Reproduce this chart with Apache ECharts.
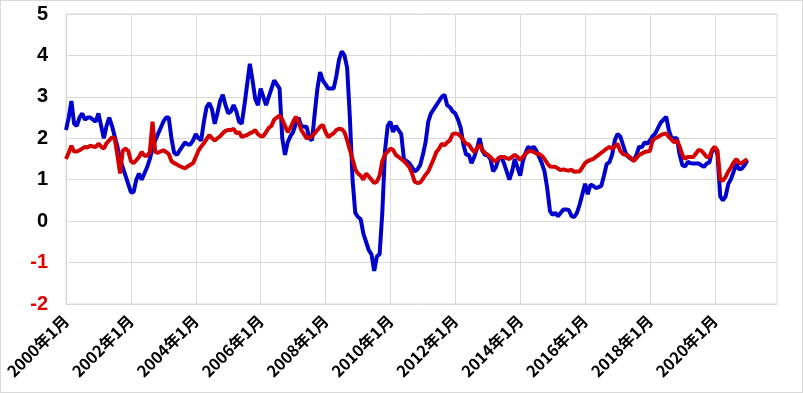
<!DOCTYPE html>
<html>
<head>
<meta charset="utf-8">
<script src="https://cdn.jsdelivr.net/npm/echarts@6/dist/echarts.min.js"></script>
<style>
html,body{margin:0;padding:0;background:#fff;}
#c{width:803px;height:393px;box-sizing:border-box;border:1px solid #d9d9d9;}
</style>
</head>
<body>
<div id="c"></div>
<script>
// Monthly categories 2000年1月 .. 2021年12月
const startYear = 2000;
const endYear = 2021;
const categories = [];
for (let y = startYear; y <= endYear; y++) {
  for (let m = 1; m <= 12; m++) categories.push(y + '年' + m + '月');
}

const blueValues = [
2.2,2.5,2.9,2.35,2.3,2.5,2.6,2.45,2.5,2.5,2.45,2.4,
2.6,2.3,2.0,2.3,2.5,2.3,2.05,1.8,1.5,1.3,1.1,0.9,
0.7,0.7,1.0,1.15,1.0,1.15,1.3,1.5,1.75,1.95,2.1,2.25,
2.4,2.5,2.5,2.0,1.65,1.6,1.7,1.8,1.9,1.85,1.85,1.95,
2.1,2.0,1.95,2.4,2.75,2.85,2.7,2.35,2.6,2.9,3.05,2.8,
2.6,2.65,2.8,2.65,2.4,2.35,2.8,3.3,3.8,3.4,2.95,2.8,
3.2,3.0,2.8,3.0,3.2,3.4,3.3,3.2,2.0,1.6,1.9,2.05,
2.15,2.35,2.5,2.3,2.28,2.28,2.0,1.95,2.6,3.2,3.6,3.4,
3.3,3.2,3.2,3.2,3.5,3.9,4.1,4.0,3.7,2.5,1.0,0.2,
0.1,0.05,-0.3,-0.5,-0.7,-0.8,-1.2,-0.85,-0.8,0.2,1.7,2.3,
2.4,2.15,2.3,2.2,2.1,1.5,1.45,1.4,1.3,1.2,1.25,1.35,
1.6,1.9,2.4,2.6,2.7,2.8,2.9,3.0,3.05,2.8,2.75,2.65,
2.6,2.45,2.25,1.85,1.6,1.6,1.4,1.55,1.75,2.0,1.7,1.6,
1.58,1.5,1.2,1.3,1.5,1.55,1.4,1.2,1.0,1.2,1.5,1.3,
1.1,1.45,1.65,1.8,1.72,1.8,1.7,1.55,1.4,1.2,0.8,0.25,
0.15,0.2,0.12,0.2,0.28,0.28,0.27,0.12,0.1,0.2,0.4,0.65,
0.9,0.65,0.88,0.85,0.8,0.82,0.85,1.1,1.38,1.42,1.6,1.95,
2.1,2.05,1.85,1.65,1.55,1.5,1.47,1.6,1.8,1.78,1.9,1.87,
1.95,2.05,2.12,2.25,2.38,2.45,2.52,2.2,2.0,2.0,2.0,1.6,
1.35,1.32,1.43,1.4,1.39,1.39,1.39,1.35,1.31,1.39,1.42,1.7,
1.79,1.6,0.6,0.5,0.6,0.9,1.02,1.2,1.38,1.25,1.27,1.35,
1.47
];

const redValues = [
1.5,1.65,1.82,1.68,1.68,1.71,1.75,1.79,1.78,1.82,1.8,1.79,
1.87,1.8,1.75,1.88,1.95,2.02,2.0,1.6,1.15,1.7,1.75,1.7,
1.45,1.4,1.47,1.55,1.67,1.58,1.58,1.67,2.4,1.67,1.65,1.68,
1.71,1.67,1.62,1.45,1.4,1.37,1.33,1.3,1.27,1.32,1.36,1.4,
1.55,1.7,1.8,1.88,1.98,2.08,2.0,1.95,2.0,2.05,2.12,2.18,
2.2,2.2,2.23,2.12,2.15,2.03,2.06,2.08,2.12,2.15,2.2,2.1,
2.05,2.05,2.15,2.25,2.3,2.45,2.5,2.55,2.45,2.3,2.15,2.25,
2.4,2.52,2.4,2.2,2.1,2.0,2.02,2.05,2.12,2.2,2.28,2.32,
2.15,2.03,2.08,2.12,2.2,2.23,2.22,2.15,1.95,1.72,1.5,1.25,
1.15,1.1,1.0,1.15,1.08,1.0,0.92,0.95,1.1,1.45,1.6,1.68,
1.75,1.72,1.6,1.55,1.5,1.45,1.38,1.3,1.15,0.95,0.92,0.93,
1.02,1.12,1.2,1.35,1.5,1.67,1.75,1.87,1.83,1.9,1.95,2.1,
2.12,2.1,2.05,1.95,1.87,1.85,1.75,1.67,1.75,1.85,1.72,1.65,
1.6,1.55,1.47,1.45,1.52,1.55,1.55,1.52,1.5,1.55,1.6,1.55,
1.48,1.55,1.62,1.68,1.7,1.67,1.63,1.62,1.58,1.5,1.4,1.32,
1.31,1.31,1.27,1.23,1.25,1.23,1.22,1.24,1.19,1.2,1.2,1.3,
1.4,1.45,1.48,1.5,1.55,1.6,1.65,1.7,1.75,1.79,1.75,1.8,
1.87,1.7,1.62,1.6,1.57,1.52,1.45,1.52,1.6,1.63,1.67,1.68,
1.7,1.95,2.0,2.03,2.08,2.1,2.12,2.03,1.97,1.9,1.95,1.8,
1.6,1.5,1.55,1.55,1.55,1.63,1.72,1.7,1.63,1.55,1.55,1.72,
1.79,1.7,1.0,0.98,1.07,1.2,1.3,1.42,1.5,1.4,1.4,1.45,
1.5
];

const yTicks = { min: -2, max: 5, interval: 1 };

const chart = echarts.init(document.getElementById('c'), null, { renderer: 'canvas' });
chart.setOption({
  animation: false,
  backgroundColor: '#ffffff',
  grid: {
    left: 65, right: 25, top: 13, bottom: 88,
    outerBoundsMode: 'none',
    containLabel: false,
    show: true, borderColor: '#d9d9d9', borderWidth: 1
  },
  xAxis: {
    type: 'category',
    data: categories,
    boundaryGap: false,
    axisLine: { show: true, lineStyle: { color: '#d9d9d9', width: 1 } },
    axisTick: { show: false },
    axisLabel: {
      interval: 23,
      rotate: 45,
      margin: 14,
      color: '#000000',
      fontWeight: 'bold',
      fontSize: 16,
      fontFamily: '"Noto Sans CJK JP", "Noto Sans", sans-serif'
    },
    splitLine: { show: true, interval: 23, lineStyle: { color: '#d9d9d9', width: 1 } }
  },
  yAxis: {
    type: 'value',
    min: yTicks.min,
    max: yTicks.max,
    interval: yTicks.interval,
    axisLine: { show: false },
    axisTick: { show: false },
    axisLabel: {
      margin: 18,
      fontSize: 20,
      fontWeight: 'bold',
      fontFamily: '"Liberation Sans", Arial, sans-serif',
      color: function (v) { return Number(v) < 0 ? '#e00000' : '#000000'; }
    },
    splitLine: { show: true, lineStyle: { color: '#d9d9d9', width: 1 } }
  },
  series: [
    {
      type: 'line',
      data: blueValues,
      showSymbol: false,
      symbol: 'none',
      lineStyle: { color: '#0000cc', width: 4 },
      itemStyle: { color: '#0000cc' }
    },
    {
      type: 'line',
      data: redValues,
      showSymbol: false,
      symbol: 'none',
      lineStyle: { color: '#d40000', width: 4 },
      itemStyle: { color: '#d40000' }
    }
  ]
});
</script>
</body>
</html>
